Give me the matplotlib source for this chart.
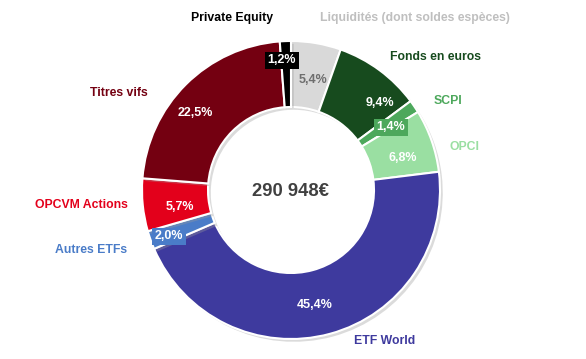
import matplotlib
matplotlib.use("Agg")
import matplotlib.pyplot as plt
import matplotlib.patheffects as pe

categories = ["Liquidités (dont soldes espèces)", "Fonds en euros", "SCPI", "OPCI",
              "ETF World", "Autres ETFs", "OPCVM Actions", "Titres vifs", "Private Equity"]
values = [5.4, 9.4, 1.4, 6.8, 45.4, 2.0, 5.7, 22.5, 1.2]
pct_labels = ["5,4%", "9,4%", "1,4%", "6,8%", "45,4%", "2,0%", "5,7%", "22,5%", "1,2%"]
total_label = "290 948€"

colors = ["#D9D9D9", "#174B1E", "#4DA85C", "#9ADFA2", "#3E3A9E", "#4A7CC8", "#E3001B", "#740011", "#000000"]
name_colors = ["#BFBFBF", "#174B1E", "#4DA85C", "#9ADFA2", "#3E3A9E", "#4A7CC8", "#E3001B", "#740011", "#000000"]
pct_colors = ["#6E6E6E", "white", "white", "white", "white", "white", "white", "white", "white"]
pct_box = [None, None, "#4DA85C", None, None, "#4A7CC8", None, None, "#000000"]

W, H = 586, 359
fig = plt.figure(figsize=(W / 100, H / 100), dpi=100)
ax = fig.add_axes([0, 0, 1, 1])

cx, cy = 291, H - 190
R = 149
wedges, _ = ax.pie(values, colors=colors, startangle=90, counterclock=False,
                   center=(cx, cy), radius=R,
                   wedgeprops=dict(width=R - 83, edgecolor="white", linewidth=1.5),
                   frame=True)
for w in wedges:
    w.set_path_effects([pe.SimplePatchShadow(offset=(2, -2), shadow_rgbFace="#999999", alpha=0.35), pe.Normal()])
ax.set_xlim(0, W)
ax.set_ylim(0, H)
ax.set_aspect("equal")
ax.axis("off")

fam = ["Liberation Sans", "DejaVu Sans"]

name_pos = [(415, 18), (435, 57), (448, 101), (465, 147), (385, 341),
            (91, 250), (81, 205), (119, 93), (232, 18)]
pct_pos = [(313, 80), (380, 103), (391, 127), (403, 158), (315, 305),
           (169, 236), (180, 207), (195, 113), (282, 60)]

for i, name in enumerate(categories):
    x, y = name_pos[i]
    ax.text(x, H - y, name, color=name_colors[i], fontsize=8.8, fontweight="bold",
            family=fam, ha="center", va="center")
    x, y = pct_pos[i]
    kw = {}
    if pct_box[i]:
        kw["bbox"] = dict(boxstyle="square,pad=0.2", fc=pct_box[i], ec="none")
    ax.text(x, H - y, pct_labels[i], color=pct_colors[i], fontsize=9, fontweight="bold",
            family=fam, ha="center", va="center", **kw)

ax.text(cx, cy - 2, total_label, color="#404040", fontsize=13.2, fontweight="bold",
        family=fam, ha="center", va="center")

fig.savefig("out.png", dpi=100)
